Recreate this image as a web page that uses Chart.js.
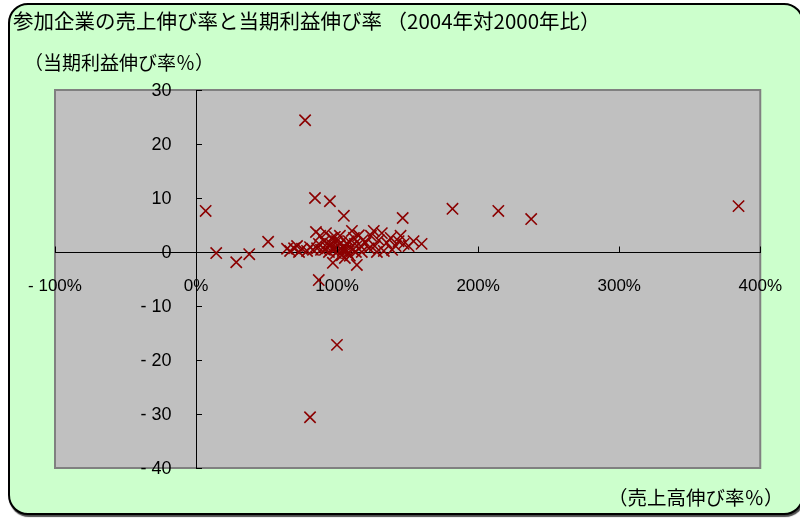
<!DOCTYPE html>
<html lang="ja">
<head>
<meta charset="utf-8">
<script src="https://cdn.jsdelivr.net/npm/chart.js@4/dist/chart.umd.min.js"></script>
<style>
  html, body { margin: 0; padding: 0; background: #ffffff; }
  #wrap { position: relative; width: 800px; height: 518px; overflow: hidden; }
  #frame {
    position: absolute; left: 8px; top: 3px; width: 792px; height: 508px;
    background: #ccffcc; border: 2px solid #000; border-radius: 20px;
    box-shadow: 1px 2px 1px rgba(0,0,0,0.7);
  }
  canvas { position: absolute; left: 0; top: 0; }
  .lbl { position: absolute; white-space: nowrap; color: #000;
         font-family: "Noto Sans CJK JP", "Liberation Sans", sans-serif; line-height: 1; }
  #title { left: 13px; top: 10px; font-size: 20.5px; }
  #ytitle { left: 24px; top: 52px; font-size: 19px; }
  #xtitle { left: 608px; top: 487px; font-size: 19.5px; }
</style>
</head>
<body>
<div id="wrap">
  <div id="frame"></div>
  <canvas id="c" width="800" height="518"></canvas>
  <div class="lbl" id="title">参加企業の売上伸び率と当期利益伸び率 （2004年対2000年比）</div>
  <div class="lbl" id="ytitle">（当期利益伸び率％）</div>
  <div class="lbl" id="xtitle">（売上高伸び率％）</div>
</div>
<script>
// Sales growth (%) of each participating company, 2004 vs 2000
const salesGrowth = [
  6.8, 14.3, 28.5, 37.7, 51.1, 77.3, 84.3, 94.9, 104.8, 146.5, 181.8, 214.3, 237.6, 384.6, 99.9, 80.8, 87.0,
  64.5, 66.7, 69.5, 73.0, 75.1, 80.8, 82.9, 85.0, 87.1, 88.6, 90.7, 92.1, 92.8, 94.2, 95.6, 96.3,
  97.0, 98.4, 99.2, 100.6, 101.3, 102.7, 103.4, 104.8, 106.2, 106.9, 108.3, 109.7, 110.5, 111.9,
  112.6, 114.0, 115.4, 116.8, 118.2, 120.3, 122.5, 126.0, 126.7, 129.5, 131.7, 133.1, 135.2, 138.0,
  141.5, 143.6, 145.0, 147.2, 150.7, 154.2, 159.9,
  85.8, 91.4, 95.0, 97.7, 99.9, 104.1, 107.6, 111.2, 113.3, 105.5, 109.0, 78.7, 71.6, 88.0, 102.0,
  117.5, 124.0, 128.2, 139.0
];
// Current-term profit growth (%) of the same companies
const profitGrowth = [
  7.6, -0.2, -1.9, -0.4, 1.9, 24.4, 10.0, 9.4, 6.7, 6.3, 8.0, 7.6, 6.1, 8.5, -17.2, -30.6, -5.2,
  0.6, 0.2, 0.7, 0.0, 0.6, 0.9, 0.4, 3.7, 1.5, 0.4, 2.0, 3.5, 0.9, 0.0, 1.5, 2.6,
  -2.0, 2.8, -0.2, 1.1, 0.4, 1.7, -0.6, 0.7, 0.4, 1.5, 2.0, 0.9, 3.9, 2.6,
  1.5, -2.4, 3.1, 1.1, 2.2, 1.7, 0.7, 3.9, 1.1, 2.2, 3.5, 0.2, 1.7, 2.6,
  1.1, 2.0, 3.0, 1.5, 1.1, 2.0, 1.5,
  0.7, 0.4, 1.1, 0.6, 2.0, 0.2, -0.2, 0.4, 0.0, -1.1, -0.7, 0.2, 1.1, 3.0, 3.0,
  0.0, 3.0, 0.0, 0.4
];
// Axis ranges and tick steps
const xRange = [-100, 400];
const xStep = 100;
const yRange = [-40, 30];
const yStep = 10;

const points = salesGrowth.map((x, i) => ({ x: x, y: profitGrowth[i] }));

// Negative values are written with a gap after the minus sign
const fmt = v => (v < 0 ? '- ' + Math.abs(v) : String(v));

// Grey plot area with a darker frame, painted before the datasets
const plotBackground = {
  id: 'plotBackground',
  beforeDraw(chart) {
    const { ctx, chartArea: a } = chart;
    ctx.save();
    ctx.fillStyle = '#c0c0c0';
    ctx.fillRect(a.left, a.top, a.right - a.left, a.bottom - a.top);
    ctx.strokeStyle = '#808080';
    ctx.lineWidth = 2;
    ctx.strokeRect(a.left, a.top, a.right - a.left, a.bottom - a.top);
    ctx.restore();
  }
};

// Axis decorations: value labels left of the vertical axis line,
// and short tick marks rising from the horizontal axis line
const axisDecor = {
  id: 'axisDecor',
  afterDraw(chart) {
    const { ctx, scales: { x, y } } = chart;
    const axisX = Math.round(x.getPixelForValue(0)) + 0.5;
    const axisY = Math.round(y.getPixelForValue(0)) + 0.5;
    ctx.save();
    ctx.strokeStyle = '#000';
    ctx.lineWidth = 1;
    ctx.beginPath();
    x.ticks.forEach(t => {
      if (t.value === 0) return;
      const px = Math.round(x.getPixelForValue(t.value)) + 0.5;
      ctx.moveTo(px, axisY);
      ctx.lineTo(px, axisY - 6);
    });
    ctx.stroke();
    ctx.font = '18px "Liberation Sans", Arial, sans-serif';
    ctx.fillStyle = '#000';
    ctx.textAlign = 'right';
    ctx.textBaseline = 'middle';
    y.ticks.forEach(t => {
      ctx.fillText(fmt(t.value), axisX - 25, y.getPixelForValue(t.value) + 1);
    });
    ctx.restore();
  }
};

const tickFont = { family: '"Liberation Sans", Arial, sans-serif', size: 17 };

new Chart(document.getElementById('c'), {
  type: 'scatter',
  data: {
    datasets: [{
      data: points,
      pointStyle: 'crossRot',
      radius: 8,
      hoverRadius: 8,
      borderColor: '#8b0000',
      backgroundColor: '#8b0000',
      borderWidth: 1.6
    }]
  },
  options: {
    responsive: false,
    animation: false,
    layout: { padding: { left: 55, right: 37, top: 90, bottom: 50 } },
    plugins: { legend: { display: false }, tooltip: { enabled: false } },
    scales: {
      x: {
        type: 'linear',
        min: xRange[0], max: xRange[1],
        position: { y: 0 },
        grid: { drawOnChartArea: false, tickLength: 6, tickColor: 'rgba(0,0,0,0)' },
        border: { display: true, color: '#000', width: 1 },
        ticks: {
          stepSize: xStep, font: tickFont, color: '#000', padding: 18,
          callback: v => fmt(v) + '%'
        }
      },
      y: {
        type: 'linear',
        min: yRange[0], max: yRange[1],
        position: { x: 0 },
        grid: { drawOnChartArea: false, tickLength: -6, tickColor: '#000', tickWidth: 1 },
        border: { display: true, color: '#000', width: 1 },
        ticks: { stepSize: yStep, display: false }
      }
    }
  },
  plugins: [plotBackground, axisDecor]
});
</script>
</body>
</html>
